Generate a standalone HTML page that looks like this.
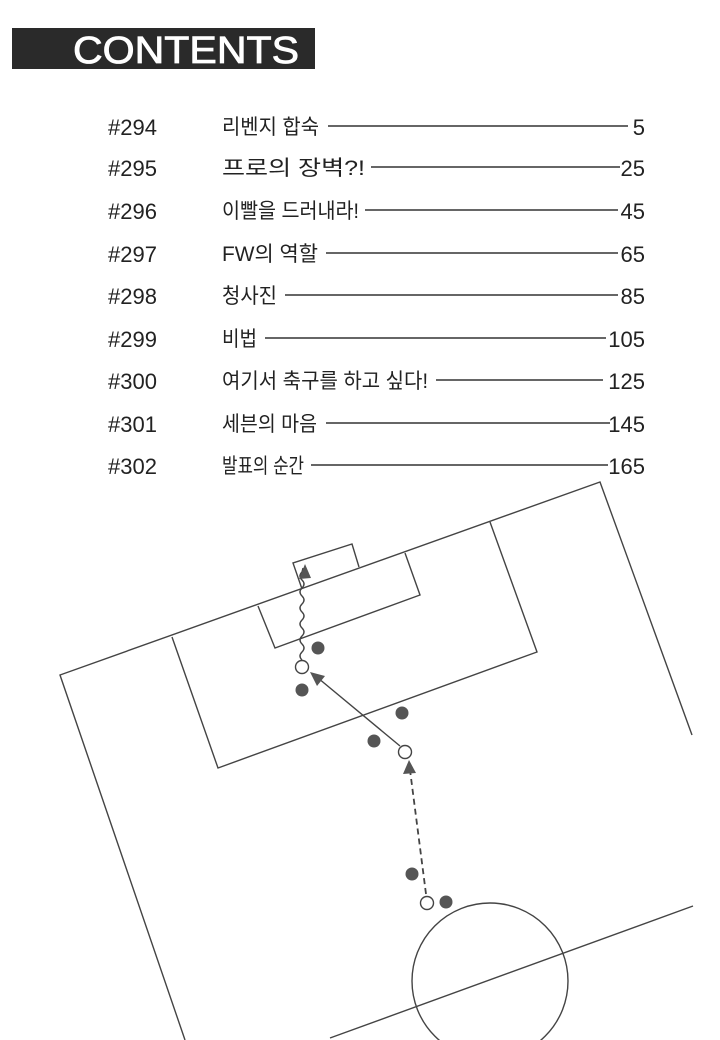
<!DOCTYPE html>
<html><head><meta charset="utf-8"><style>
html,body{margin:0;padding:0;background:#fff}
svg{display:block}
.n{font-family:"Liberation Sans","Noto Sans CJK KR",sans-serif;font-size:22px;fill:#222}
.k{font-family:"Liberation Sans","Noto Sans CJK KR",sans-serif;font-size:21px;fill:#222}
</style></head><body>
<svg width="720" height="1040" viewBox="0 0 720 1040" xmlns="http://www.w3.org/2000/svg">
<rect x="12" y="28" width="303" height="41" fill="#2a2a2a"/>
<text x="73" y="63" font-family="Liberation Sans,sans-serif" font-size="38" fill="#fff" stroke="#fff" stroke-width="0.8" textLength="226" lengthAdjust="spacingAndGlyphs">CONTENTS</text>
<g stroke="#333" stroke-width="1.6">
<line x1="328" y1="126" x2="628" y2="126"/>
<line x1="371" y1="167" x2="620" y2="167"/>
<line x1="365" y1="210" x2="618" y2="210"/>
<line x1="326" y1="253" x2="618" y2="253"/>
<line x1="285" y1="295" x2="618" y2="295"/>
<line x1="265" y1="338" x2="606" y2="338"/>
<line x1="436" y1="380" x2="603" y2="380"/>
<line x1="326" y1="423" x2="610" y2="423"/>
<line x1="311" y1="465" x2="608" y2="465"/>
</g>
<g class="n">
<text x="108" y="135">#294</text><text x="108" y="176">#295</text><text x="108" y="219">#296</text>
<text x="108" y="262">#297</text><text x="108" y="304">#298</text><text x="108" y="347">#299</text>
<text x="108" y="389">#300</text><text x="108" y="432">#301</text><text x="108" y="474">#302</text>
</g>
<g class="k">
<text x="222" y="134" textLength="97" lengthAdjust="spacingAndGlyphs">리벤지 합숙</text>
<text x="222" y="175" textLength="143" lengthAdjust="spacingAndGlyphs">프로의 장벽?!</text>
<text x="222" y="218" textLength="137" lengthAdjust="spacingAndGlyphs">이빨을 드러내라!</text>
<text x="222" y="261" textLength="96" lengthAdjust="spacingAndGlyphs">FW의 역할</text>
<text x="222" y="303" textLength="55" lengthAdjust="spacingAndGlyphs">청사진</text>
<text x="222" y="346" textLength="35" lengthAdjust="spacingAndGlyphs">비법</text>
<text x="222" y="388" textLength="206" lengthAdjust="spacingAndGlyphs">여기서 축구를 하고 싶다!</text>
<text x="222" y="431" textLength="95" lengthAdjust="spacingAndGlyphs">세븐의 마음</text>
<text x="222" y="473" textLength="82" lengthAdjust="spacingAndGlyphs">발표의 순간</text>
</g>
<g class="n" text-anchor="end">
<text x="645" y="135">5</text><text x="645" y="176">25</text><text x="645" y="219">45</text>
<text x="645" y="262">65</text><text x="645" y="304">85</text><text x="645" y="347">105</text>
<text x="645" y="389">125</text><text x="645" y="432">145</text><text x="645" y="474">165</text>
</g>
<g stroke="#444" stroke-width="1.4" fill="none">
<polyline points="185,1040 60,675 600,482 692,735"/>
<polyline points="172,637 218,768 537,652 490,522"/>
<polyline points="258,606 275,648 420,595 405,553"/>
<polyline points="302,589 293,563 352,544 359,567"/>
<line x1="330" y1="1038" x2="693" y2="906"/>
<circle cx="490" cy="981" r="78"/>
<path d="M302,660 q-4,-4 0,-8 q4,-4 0,-8 q-4,-4 0,-8 q4,-4 0,-8 q-4,-4 0,-8 q4,-4 0,-8 q-4,-4 0,-8 q4,-4 0,-8 q-4,-4 0,-8 q4,-4 0,-8 q-4,-4 0,-8 l1,-4"/>
<line x1="400" y1="746" x2="318" y2="678"/>
<line x1="426" y1="894" x2="410" y2="770" stroke-dasharray="6,4" stroke-width="1.8"/>
</g>
<g fill="#555">
<polygon points="305,564 299,579 311,578"/>
<polygon points="310,672 325,676 317,686"/>
<polygon points="409,760 403,774 416,773"/>
<circle cx="318" cy="648" r="6.5"/><circle cx="302" cy="690" r="6.5"/>
<circle cx="402" cy="713" r="6.5"/><circle cx="374" cy="741" r="6.5"/>
<circle cx="412" cy="874" r="6.5"/><circle cx="446" cy="902" r="6.5"/>
</g>
<g fill="#fff" stroke="#444" stroke-width="1.4">
<circle cx="302" cy="667" r="6.5"/><circle cx="405" cy="752" r="6.5"/><circle cx="427" cy="903" r="6.5"/>
</g>
</svg>
</body></html>
